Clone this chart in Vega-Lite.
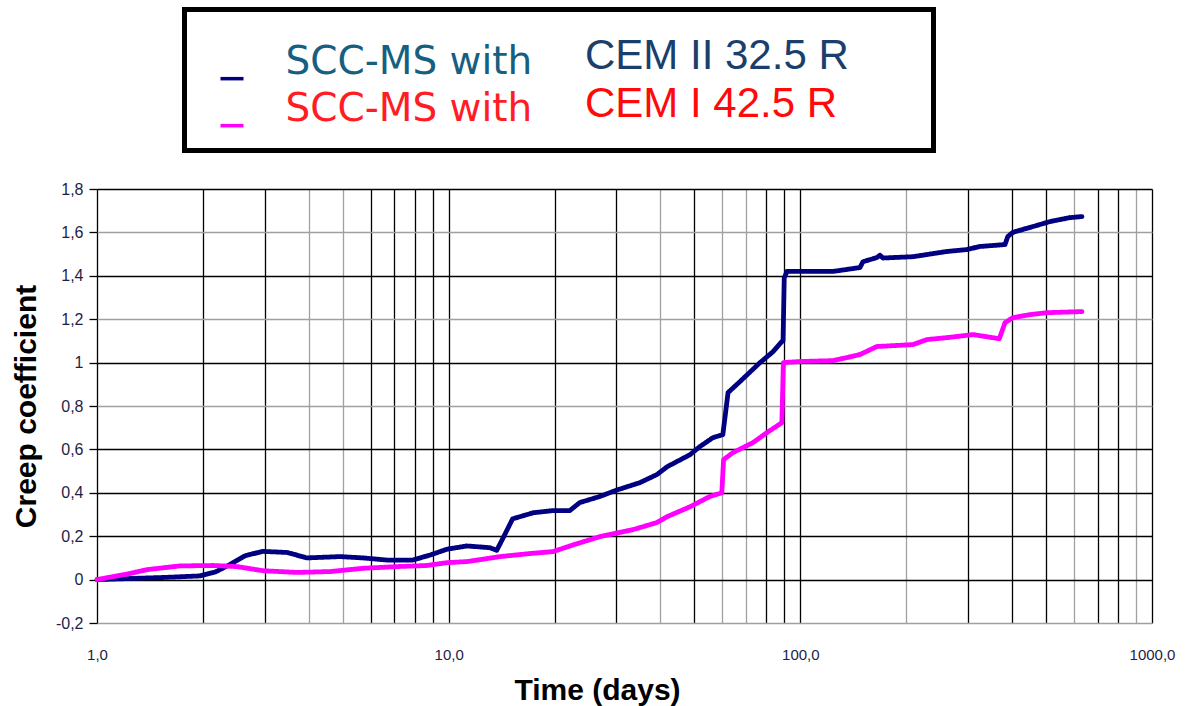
{
  "$schema": "https://vega.github.io/schema/vega-lite/v6.json",
  "width": 1055,
  "height": 434,
  "autosize": {"type": "none"},
  "padding": {"left": 97, "top": 189, "right": 34, "bottom": 83},
  "background": "white",
  "datasets": {
    "navy": [
      {"day":1.0,"creep":0},{"day":1.24,"creep":0.005},{"day":1.56,"creep":0.01},{"day":1.96,"creep":0.017},{"day":2.17,"creep":0.035},{"day":2.39,"creep":0.07},{"day":2.64,"creep":0.11},{"day":2.96,"creep":0.13},{"day":3.47,"creep":0.125},{"day":3.95,"creep":0.1},{"day":4.91,"creep":0.106},{"day":5.7,"creep":0.1},{"day":6.68,"creep":0.09},{"day":7.91,"creep":0.09},{"day":8.85,"creep":0.113},{"day":9.89,"creep":0.14},{"day":11.27,"creep":0.155},{"day":13.1,"creep":0.147},{"day":13.7,"creep":0.135},{"day":14.2,"creep":0.184},{"day":15.2,"creep":0.28},{"day":17.4,"creep":0.308},{"day":19.8,"creep":0.318},{"day":22.1,"creep":0.318},{"day":23.6,"creep":0.355},{"day":26.9,"creep":0.383},{"day":30.1,"creep":0.413},{"day":35.0,"creep":0.447},{"day":39.1,"creep":0.484},{"day":41.8,"creep":0.52},{"day":48.6,"creep":0.576},{"day":51.8,"creep":0.613},{"day":56.4,"creep":0.654},{"day":60.2,"creep":0.668},{"day":61.1,"creep":0.751},{"day":62.3,"creep":0.862},{"day":67.3,"creep":0.912},{"day":76.8,"creep":1.0},{"day":83.6,"creep":1.05},{"day":88.6,"creep":1.097},{"day":89.3,"creep":1.1},{"day":90.0,"creep":1.39},{"day":91.6,"creep":1.42},{"day":123.8,"creep":1.42},{"day":147.7,"creep":1.438},{"day":150.7,"creep":1.465},{"day":165.1,"creep":1.484},{"day":168.4,"creep":1.495},{"day":171.7,"creep":1.482},{"day":209,"creep":1.488},{"day":261,"creep":1.512},{"day":298,"creep":1.521},{"day":324,"creep":1.535},{"day":382,"creep":1.544},{"day":389,"creep":1.581},{"day":402,"creep":1.6},{"day":459,"creep":1.627},{"day":513,"creep":1.65},{"day":584,"creep":1.668},{"day":632,"creep":1.673}
    ],
    "magenta": [
      {"day":1.0,"creep":0},{"day":1.24,"creep":0.028},{"day":1.39,"creep":0.046},{"day":1.72,"creep":0.063},{"day":2.14,"creep":0.065},{"day":2.5,"creep":0.06},{"day":2.96,"creep":0.041},{"day":3.7,"creep":0.033},{"day":4.6,"creep":0.037},{"day":5.7,"creep":0.052},{"day":7.13,"creep":0.06},{"day":8.67,"creep":0.065},{"day":9.89,"creep":0.078},{"day":11.27,"creep":0.083},{"day":12.3,"creep":0.092},{"day":14.0,"creep":0.106},{"day":17.0,"creep":0.12},{"day":19.8,"creep":0.129},{"day":22.6,"creep":0.16},{"day":26.9,"creep":0.198},{"day":33.4,"creep":0.23},{"day":39.1,"creep":0.263},{"day":41.8,"creep":0.29},{"day":48.6,"creep":0.336},{"day":55.3,"creep":0.383},{"day":59.8,"creep":0.4},{"day":60.5,"creep":0.553},{"day":64.3,"creep":0.585},{"day":73.3,"creep":0.631},{"day":80.3,"creep":0.677},{"day":88.6,"creep":0.723},{"day":89.5,"creep":1.0},{"day":99.7,"creep":1.005},{"day":123.8,"creep":1.009},{"day":135.6,"creep":1.023},{"day":147.7,"creep":1.037},{"day":165,"creep":1.074},{"day":209,"creep":1.083},{"day":229,"creep":1.106},{"day":261,"creep":1.115},{"day":310,"creep":1.129},{"day":368,"creep":1.11},{"day":382,"creep":1.184},{"day":402,"creep":1.207},{"day":450,"creep":1.221},{"day":502,"creep":1.23},{"day":632,"creep":1.235}
    ]
  },
  "layer": [
    {
      "data": {"name": "navy"},
      "transform": [{"calculate": "'SCC-MS with CEM II 32.5 R'", "as": "series"}, {"calculate": "'CEM II 32.5 R'", "as": "cement"}],
      "mark": {"type": "line", "strokeWidth": 4.8, "strokeCap": "round", "strokeJoin": "round"}
    },
    {
      "data": {"name": "magenta"},
      "transform": [{"calculate": "'SCC-MS with CEM I 42.5 R'", "as": "series"}, {"calculate": "'CEM I 42.5 R'", "as": "cement"}],
      "mark": {"type": "line", "strokeWidth": 4.8, "strokeCap": "round", "strokeJoin": "round"}
    }
  ],
  "encoding": {
    "x": {
      "field": "day", "type": "quantitative",
      "scale": {"type": "log", "domain": [1, 1000], "nice": false},
      "axis": {
        "title": "Time (days)",
        "values": [1,2,3,4,5,6,7,8,9,10,20,30,40,50,60,70,80,90,100,200,300,400,500,600,700,800,900,1000],
        "labelExpr": "indexof([1,10,100,1000], datum.value) >= 0 ? replace(format(datum.value, '.1f'), '.', ',') : ''",
        "grid": true,
        "gridColor": {"condition": {"test": "indexof([4,5,40,60,70,200,600,900], datum.value) >= 0", "value": "#a0a0a0"}, "value": "#000000"},
        "gridWidth": 1.3,
        "gridOpacity": 1,
        "ticks": false,
        "domain": false,
        "labelPadding": 24,
        "labelFont": "Liberation Sans",
        "labelFontSize": 15,
        "labelColor": "#1e1e46",
        "labelFlush": false,
        "labelOverlap": false,
        "titleFont": "Liberation Sans",
        "titleFontSize": 30,
        "titleFontWeight": "bold",
        "titleColor": "#000000",
        "titlePadding": 13,
        "titleX": 500
      }
    },
    "y": {
      "field": "creep", "type": "quantitative",
      "scale": {"domain": [-0.2, 1.8], "nice": false, "zero": false},
      "axis": {
        "title": "Creep coefficient",
        "values": [-0.2,0,0.2,0.4,0.6,0.8,1,1.2,1.4,1.6,1.8],
        "labelExpr": "replace(toString(datum.value), '.', ',')",
        "grid": true,
        "gridColor": {"condition": {"test": "indexof([-0.2,0.8,1.2,1.6], datum.value) >= 0", "value": "#a0a0a0"}, "value": "#000000"},
        "gridWidth": 1.3,
        "gridOpacity": 1,
        "ticks": true,
        "tickSize": 8,
        "tickColor": "#000000",
        "tickWidth": 1.3,
        "domain": false,
        "labelPadding": 6,
        "labelFont": "Liberation Sans",
        "labelFontSize": 16,
        "labelColor": "#1e1e46",
        "labelFlush": false,
        "labelOverlap": false,
        "titleFont": "Liberation Sans",
        "titleFontSize": 30,
        "titleFontWeight": "bold",
        "titleColor": "#000000",
        "titlePadding": 14
      }
    },
    "color": {
      "field": "series", "type": "nominal",
      "scale": {"domain": ["SCC-MS with CEM II 32.5 R", "SCC-MS with CEM I 42.5 R"], "range": ["#000080", "#ff00ff"]},
      "legend": {
        "title": null,
        "orient": "none",
        "legendX": 87.5,
        "legendY": -172.5,
        "direction": "vertical",
        "labelExpr": "'SCC-MS with'",
        "labelFont": "DejaVu Sans",
        "labelFontSize": 39,
        "labelColor": {"expr": "datum.value == 'SCC-MS with CEM II 32.5 R' ? '#175f80' : '#ff1c24'"},
        "labelLimit": 0,
        "labelOffset": 34,
        "rowPadding": 3,
        "padding": 26,
        "symbolOffset": 2,
        "symbolType": "M-1,1.45L1,1.45",
        "symbolSize": 529,
        "symbolStrokeWidth": 3.5,
        "symbolStrokeColor": {"expr": "datum.value == 'SCC-MS with CEM II 32.5 R' ? '#1f4e79' : '#ff2a2a'"},
        "strokeColor": null,
        "fillColor": null
      }
    },
    "strokeDash": {
      "field": "cement", "type": "nominal",
      "scale": {"domain": ["CEM II 32.5 R", "CEM I 42.5 R"], "range": [[1, 0], [1, 0]]},
      "legend": {
        "title": null,
        "orient": "none",
        "legendX": 87.5,
        "legendY": -179.5,
        "direction": "vertical",
        "labelExpr": "datum.label + '\u00a0\u00a0\u00a0\u00a0\u00a0\u200b'",
        "labelFont": "Liberation Sans",
        "labelFontSize": 42,
        "labelColor": {"expr": "datum.value == 'CEM II 32.5 R' ? '#1b3f6c' : '#ff0a0a'"},
        "labelLimit": 0,
        "labelOffset": 0,
        "rowPadding": 6,
        "padding": 25.5,
        "symbolOffset": 333,
        "symbolSize": 1,
        "symbolOpacity": 0,
        "symbolStrokeWidth": 0,
        "strokeColor": "#000000",
        "fillColor": null
      }
    }
  },
  "config": {
    "view": {"stroke": null},
    "legend": {"strokeWidth": 5}
  }
}
